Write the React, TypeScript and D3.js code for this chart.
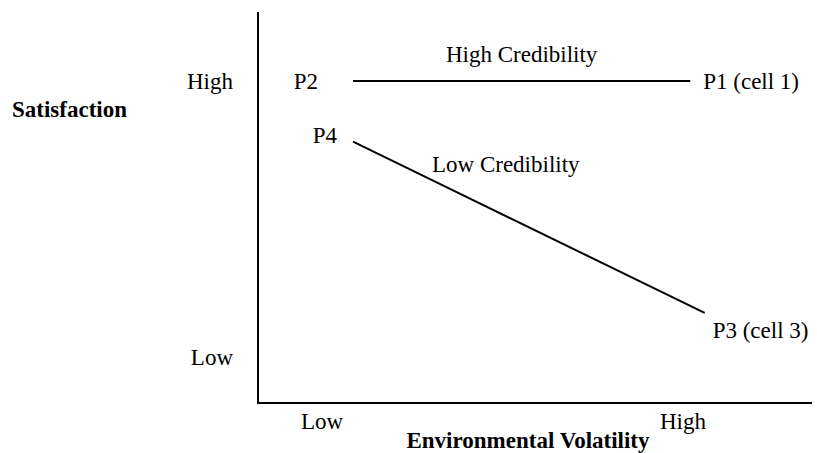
import React from 'react';
import * as d3 from 'd3';

// axis categories
const xTicks = ['Low', 'High'];
const yTicks = ['Low', 'High'];
const tickValues = [0, 1];

// the two credibility lines: volatility (0 = low, 1 = high) vs satisfaction
const highCredVolatility = [0.086, 1.02];
const highCredSatisfaction = [1, 1];
const highCredPoints = ['P2', 'P1 (cell 1)'];

const lowCredVolatility = [0.086, 1.06];
const lowCredSatisfaction = [0.78, 0.16];
const lowCredPoints = ['P4', 'P3 (cell 3)'];

const W = 817;
const H = 453;
const font = "'Liberation Serif', 'Times New Roman', Times, serif";
const fs = 23;

export default function App() {
  const x = d3.scaleLinear().domain([0, 1]).range([322, 683]);
  const y = d3.scaleLinear().domain([0, 1]).range([357, 81]);

  const line = d3
    .line<[number, number]>()
    .x((d) => x(d[0]))
    .y((d) => y(d[1]));

  const hi = highCredVolatility.map((v, i) => [v, highCredSatisfaction[i]] as [number, number]);
  const lo = lowCredVolatility.map((v, i) => [v, lowCredSatisfaction[i]] as [number, number]);

  const axisX = 258;
  const axisY = 403;

  return (
    <svg
      width={W}
      height={H}
      style={{ position: 'absolute', left: 0, top: 0, background: '#fff', fontFamily: font, fontSize: fs }}
    >
      {/* axes */}
      <line x1={axisX} y1={12} x2={axisX} y2={axisY} stroke="#000" strokeWidth={2} />
      <line x1={axisX - 1} y1={axisY} x2={812} y2={axisY} stroke="#000" strokeWidth={2} />

      {/* y labels */}
      {yTicks.map((t, i) => (
        <text key={t} x={233} y={y(tickValues[i]) + 8} textAnchor="end">
          {t}
        </text>
      ))}
      <text x={12} y={117} fontWeight="bold">Satisfaction</text>

      {/* x labels */}
      {xTicks.map((t, i) => (
        <text key={t} x={x(tickValues[i])} y={429} textAnchor="middle">
          {t}
        </text>
      ))}
      <text x={528} y={448} textAnchor="middle" fontWeight="bold">
        Environmental Volatility
      </text>

      {/* high credibility */}
      <path d={line(hi) ?? ''} fill="none" stroke="#000" strokeWidth={2} />
      <text x={(x(hi[0][0]) + x(hi[1][0])) / 2} y={62} textAnchor="middle">High Credibility</text>
      <text x={x(hi[0][0]) - 35} y={y(hi[0][1]) + 8} textAnchor="end">{highCredPoints[0]}</text>
      <text x={x(hi[1][0]) + 13} y={y(hi[1][1]) + 8}>{highCredPoints[1]}</text>

      {/* low credibility */}
      <path d={line(lo) ?? ''} fill="none" stroke="#000" strokeWidth={2} />
      <text x={432} y={172}>Low Credibility</text>
      <text x={x(lo[0][0]) - 16} y={y(lo[0][1]) + 1} textAnchor="end">{lowCredPoints[0]}</text>
      <text x={x(lo[1][0]) + 8} y={y(lo[1][1]) + 25}>{lowCredPoints[1]}</text>
    </svg>
  );
}
